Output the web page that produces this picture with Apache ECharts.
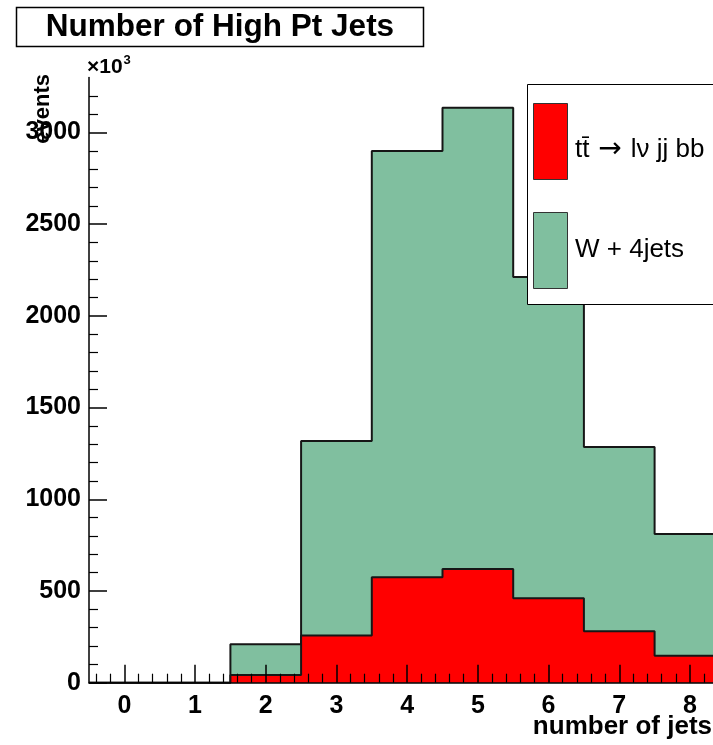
<!DOCTYPE html>
<html>
<head>
<meta charset="utf-8">
<script src="https://cdn.jsdelivr.net/npm/echarts@6/dist/echarts.min.js"></script>
<style>
  html, body { margin: 0; padding: 0; background: #ffffff; }
  #chart { width: 713px; height: 745px; }
</style>
</head>
<body>
<div id="chart"></div>
<script>
// Histogram bins (number of jets) and event counts per sample
const binCenters = [0, 1, 2, 3, 4, 5, 6, 7, 8];
const ttbarCounts = [0, 0, 42, 258, 575, 620, 460, 280, 147];
const wjetsCounts = [0, 0, 167, 1060, 2324, 2515, 1752, 1005, 664];
const seriesNames = ['tt\u0304 \u2192 l\u03bd jj bb', 'W + 4jets'];
const xTickValues = [0, 1, 2, 3, 4, 5, 6, 7, 8, 9];
const yTickValues = [0, 500, 1000, 1500, 2000, 2500, 3000];

const BIN_WIDTH = 1;
const X_MIN = -0.5, X_MAX = 9.5;
const Y_MIN = 0, Y_MAX = 3300;
const FONT = '"Liberation Sans", Arial, Helvetica, sans-serif';
const COLORS = { ttbar: '#ff0000', wjets: '#80bf9f', edge: '#161616' };

// Stack: the W + 4jets histogram sits on top of the ttbar histogram
const stackedTotals = ttbarCounts.map((v, i) => v + wjetsCounts[i]);

// Step outline points: each bin holds its value from its left edge to its right edge
function stepPoints(values) {
  const pts = binCenters.map((c, i) => [c - BIN_WIDTH / 2, values[i]]);
  const last = binCenters.length - 1;
  pts.push([binCenters[last] + BIN_WIDTH / 2, values[last]]);
  return pts;
}

// Minor tick positions (5 subdivisions between major ticks)
const xMinorTicks = [];
for (let k = -2; k <= 47; k++) { if (k % 5 !== 0) xMinorTicks.push(+(k * 0.2).toFixed(1)); }
const yMinorTicks = [];
for (let v = 100; v <= 3200; v += 100) { if (v % 500 !== 0) yMinorTicks.push(v); }

const labelStyle = { color: '#000', fontFamily: FONT, fontWeight: 'bold', fontSize: 25, formatter: v => String(v) };

const chart = echarts.init(document.getElementById('chart'), null, { renderer: 'canvas' });

chart.setOption({
  animation: false,
  backgroundColor: '#ffffff',
  grid: { left: 89, right: -83, top: 77.5, bottom: 62.3, outerBoundsMode: 'none', containLabel: false },
  xAxis: [
    {
      type: 'value', min: X_MIN, max: X_MAX, position: 'bottom', z: 10,
      axisLine: { show: true, onZero: false, lineStyle: { color: '#000', width: 1.5 } },
      axisTick: { show: true, inside: true, length: 18, customValues: xTickValues, lineStyle: { color: '#000', width: 1.5 } },
      axisLabel: { show: true, customValues: xTickValues, margin: 11, ...labelStyle },
      splitLine: { show: false }
    },
    {
      type: 'value', min: X_MIN, max: X_MAX, position: 'bottom', z: 10,
      axisLine: { show: false, onZero: false },
      axisTick: { show: true, inside: true, length: 9, customValues: xMinorTicks, lineStyle: { color: '#000', width: 1.2 } },
      axisLabel: { show: false },
      splitLine: { show: false }
    }
  ],
  yAxis: [
    {
      type: 'value', min: Y_MIN, max: Y_MAX, position: 'left', z: 10,
      axisLine: { show: true, onZero: false, lineStyle: { color: '#000', width: 1.5 } },
      axisTick: { show: true, inside: true, length: 18, customValues: yTickValues, lineStyle: { color: '#000', width: 1.5 } },
      axisLabel: { show: true, customValues: yTickValues, margin: 8, ...labelStyle },
      splitLine: { show: false }
    },
    {
      type: 'value', min: Y_MIN, max: Y_MAX, position: 'left', z: 10,
      axisLine: { show: false, onZero: false },
      axisTick: { show: true, inside: true, length: 9, customValues: yMinorTicks, lineStyle: { color: '#000', width: 1.2 } },
      axisLabel: { show: false },
      splitLine: { show: false }
    }
  ],
  series: [
    {
      name: seriesNames[1], type: 'line', step: 'end',
      xAxisIndex: 0, yAxisIndex: 0, data: stepPoints(stackedTotals),
      symbol: 'none', silent: true, z: 2,
      itemStyle: { color: COLORS.wjets },
      lineStyle: { color: COLORS.edge, width: 2 },
      areaStyle: { color: COLORS.wjets, opacity: 1 }
    },
    {
      name: seriesNames[0], type: 'line', step: 'end',
      xAxisIndex: 0, yAxisIndex: 0, data: stepPoints(ttbarCounts),
      symbol: 'none', silent: true, z: 3,
      itemStyle: { color: COLORS.ttbar },
      lineStyle: { color: COLORS.edge, width: 2 },
      areaStyle: { color: COLORS.ttbar, opacity: 1 }
    }
  ],
  graphic: [
    // title box
    { type: 'rect', z: 100, shape: { x: 16.5, y: 7.5, width: 407, height: 39 },
      style: { fill: '#fff', stroke: '#000', lineWidth: 1.5 } },
    { type: 'text', z: 101, x: 220, y: 27,
      style: { text: 'Number of High Pt Jets', fill: '#000', font: 'bold 31.5px ' + FONT, align: 'center', verticalAlign: 'middle' } },
    // axis multiplier
    { type: 'text', z: 101, x: 87, y: 67,
      style: { text: '{m|\u00d710}{e|3}', verticalAlign: 'middle', align: 'left',
        rich: {
          m: { fontFamily: FONT, fontWeight: 'bold', fontSize: 21, color: '#000' },
          e: { fontFamily: FONT, fontWeight: 'bold', fontSize: 13, color: '#000', padding: [0, 0, 14, 1] }
        } } },
    // y axis title
    { type: 'text', z: 101, x: 43, y: 74, rotation: Math.PI / 2,
      style: { text: 'events', fill: '#000', font: 'bold 22px ' + FONT, align: 'right', verticalAlign: 'middle' } },
    // x axis title
    { type: 'text', z: 101, x: 712, y: 727,
      style: { text: 'number of jets', fill: '#000', font: 'bold 26px ' + FONT, align: 'right', verticalAlign: 'middle' } },
    // legend
    { type: 'rect', z: 100, shape: { x: 527.5, y: 84.5, width: 300, height: 220 },
      style: { fill: '#fff', stroke: '#000', lineWidth: 1 } },
    { type: 'rect', z: 101, shape: { x: 533.5, y: 103.5, width: 34, height: 76 },
      style: { fill: COLORS.ttbar, stroke: '#333', lineWidth: 1 } },
    { type: 'text', z: 101, x: 575, y: 150,
      style: { text: '{a|tt\u0304}{b| \u2192 }{a|l\u03bd jj bb}', align: 'left', verticalAlign: 'middle',
        rich: {
          a: { fontFamily: FONT, fontSize: 26, color: '#000' },
          b: { fontFamily: '"DejaVu Sans", sans-serif', fontSize: 28, color: '#000' }
        } } },
    { type: 'rect', z: 101, shape: { x: 533.5, y: 212.5, width: 34, height: 76 },
      style: { fill: COLORS.wjets, stroke: '#333', lineWidth: 1 } },
    { type: 'text', z: 101, x: 575, y: 250,
      style: { text: seriesNames[1], fill: '#000', font: '26px ' + FONT, align: 'left', verticalAlign: 'middle' } }
  ]
});
</script>
</body>
</html>
